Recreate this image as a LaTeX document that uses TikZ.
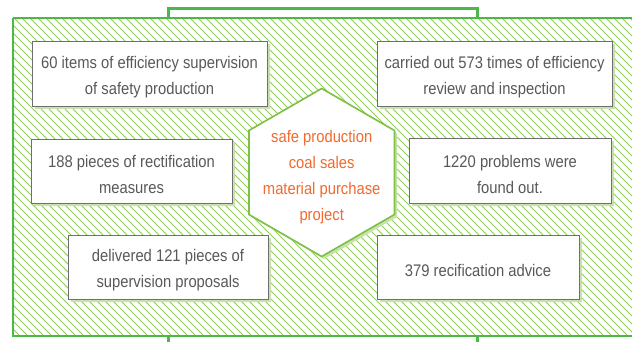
\documentclass[tikz,border=0pt]{standalone}
\usepackage{fontspec}
\setmainfont{Liberation Sans}
\newfontfamily\narrowfont[FakeStretch=0.88]{Liberation Sans}
\usetikzlibrary{shadows}
\definecolor{framegreen}{HTML}{4DB848}
\definecolor{hatchgreen}{HTML}{92CC5A}
\definecolor{hexgreen}{HTML}{7CC144}
\definecolor{shadowgreen}{HTML}{C9E2AC}
\definecolor{boxgray}{HTML}{6D6E71}
\definecolor{textgray}{HTML}{58595B}
\definecolor{orangetext}{HTML}{F26A2E}
\tikzset{
  infobox/.style={draw=boxgray, line width=0.9pt, fill=white, inner sep=0pt,
    drop shadow={shadow xshift=3pt, shadow yshift=-3pt, fill=shadowgreen, opacity=1}},
  infotext/.style={text=textgray, align=center, inner sep=0pt, yshift=-3.5pt,
    font=\narrowfont\fontsize{16.8}{26}\selectfont},
  framebox/.style={draw=framegreen, line width=2.6pt},
  hatchline/.style={draw=hatchgreen, line width=0.9pt},
}
\begin{document}
\begin{tikzpicture}[x=1pt,y=-1pt]
\useasboundingbox (0,0) rectangle (632,341);
\clip (0,0) rectangle (632,341);
% tabs
\draw[framebox, line width=2.2pt, fill=white] (168.5,8.5) rectangle (477.5,30);
\draw[framebox, line width=2.2pt, fill=white] (168.5,330) rectangle (477.5,350);
% main frame
\fill[white] (13,18) rectangle (645,336);
\begin{scope}
  \clip (13,18) rectangle (645,336);
  \foreach \i in {-330,-322,...,650} {
    \draw[hatchline] (\i,18) -- ++(318,318);
  }
\end{scope}
\draw[framebox] (13,18) -- (645,18);
\draw[framebox] (645,336) -- (13,336) -- (13,18);
% hexagon
\coordinate (hc) at (321.7,172.5);
\fill[shadowgreen] ([shift={(2.5,2.5)}]hc) ++(0,-84) -- ++(72.75,42) -- ++(0,84) -- ++(-72.75,42) -- ++(-72.75,-42) -- ++(0,-84) -- cycle;
\draw[hexgreen, line width=1.6pt, fill=white] (hc) ++(0,-84) -- ++(72.75,42) -- ++(0,84) -- ++(-72.75,42) -- ++(-72.75,-42) -- ++(0,-84) -- cycle;
\node[infotext, text=orangetext, yshift=-1pt] (hex) at (hc)
  {safe production\\coal sales\\material purchase\\project};
% boxes
\node[infobox, minimum width=235pt, minimum height=65pt] (b1) at (149.5,73.5) {};
\node[infotext] (t1) at (b1) {60 items of efficiency supervision\\of safety production};
\node[infobox, minimum width=235pt, minimum height=65pt] (b2) at (494.5,73.5) {};
\node[infotext] (t2) at (b2) {carried out 573 times of efficiency\\review and inspection};
\node[infobox, minimum width=201pt, minimum height=64pt] (b3) at (131.5,171) {};
\node[infotext] (t3) at (b3) {188 pieces of rectification\\measures};
\node[infobox, minimum width=202pt, minimum height=65pt] (b4) at (510,170.5) {};
\node[infotext] (t4) at (b4) {1220 problems were\\found out.};
\node[infobox, minimum width=200pt, minimum height=64pt] (b5) at (168,267) {};
\node[infotext] (t5) at (b5) {delivered 121 pieces of\\supervision proposals};
\node[infobox, minimum width=202pt, minimum height=64pt] (b6) at (478,267) {};
\node[infotext] (t6) at (b6) {379 recification advice};
\end{tikzpicture}
\end{document}
